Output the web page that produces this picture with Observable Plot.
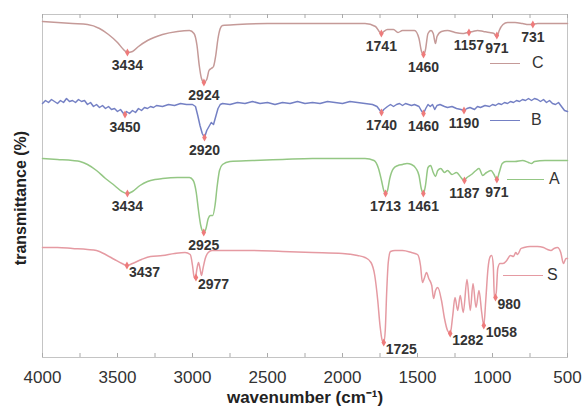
<!DOCTYPE html>
<html>
<head>
<meta charset="utf-8">
<script src="https://cdn.jsdelivr.net/npm/d3@7"></script>
<script src="https://cdn.jsdelivr.net/npm/@observablehq/plot@0.6"></script>
<style>
  body { margin: 0; background: #fff; }
  #wrap { position: relative; width: 582px; height: 409px; font-family: "Liberation Sans", Arial, sans-serif; }
  .leg { position: absolute; height: 0; border-top: 1.5px solid; }
  .legt { position: absolute; font-size: 16px; color: #333; line-height: 16px; }
</style>
</head>
<body>
<div id="wrap"></div>
<script>
// Wavenumber (cm-1) and offset transmittance
const traceC = [[4000,336],[3900,335],[3800,334],[3700,333],[3620,329],[3560,323],[3500,315],[3460,308],[3434,305],[3400,306],[3360,311],[3300,317],[3200,323],[3100,326],[3020,327],[2990,324],[2970,312],[2955,292],[2940,279],[2924,275],[2905,278],[2890,287],[2875,289],[2860,291],[2845,302],[2830,319],[2815,329],[2800,332],[2700,333],[2500,334],[2200,334],[2000,334],[1850,334],[1780,331],[1750,325],[1741,324],[1725,326],[1700,328],[1660,328],[1630,325],[1600,327],[1560,327],[1520,327],[1490,319],[1475,307],[1460,303],[1448,307],[1430,324],[1410,327],[1395,324],[1380,314],[1370,321],[1340,326],[1300,327],[1250,325],[1200,324],[1167,325],[1130,326],[1100,327],[1060,326],[1020,325],[990,324],[975,321],[967,322],[955,327],[930,333],[900,335],[850,335],[800,334],[760,333],[740,333],[700,334],[600,334],[500,334]];
const traceB = [[4000,254],[3980,257],[3960,255],[3940,258],[3920,256],[3900,254],[3880,257],[3860,255],[3840,259],[3820,256],[3800,257],[3780,255],[3760,258],[3740,256],[3720,257],[3700,253],[3680,255],[3660,251],[3640,253],[3620,250],[3600,252],[3580,249],[3560,251],[3540,248],[3520,249],[3500,246],[3480,248],[3460,244],[3450,243],[3440,246],[3420,244],[3400,247],[3380,245],[3360,249],[3340,247],[3320,250],[3300,249],[3280,251],[3260,250],[3240,252],[3200,251],[3160,253],[3120,252],[3080,254],[3040,253],[3000,253],[2980,251],[2965,242],[2950,232],[2935,224],[2920,220],[2905,227],[2890,231],[2875,235],[2860,233],[2845,241],[2830,249],[2815,253],[2800,254],[2750,253],[2700,255],[2650,254],[2600,256],[2550,254],[2500,255],[2450,253],[2400,255],[2350,254],[2300,256],[2250,254],[2200,255],[2150,254],[2100,256],[2050,255],[2000,254],[1950,256],[1900,255],[1850,254],[1800,253],[1770,251],[1750,247],[1740,245],[1725,248],[1700,251],[1680,253],[1660,251],[1640,253],[1620,254],[1600,252],[1580,254],[1560,253],[1540,252],[1520,253],[1490,251],[1475,247],[1460,244],[1445,249],[1430,253],[1415,251],[1400,253],[1385,248],[1370,252],[1350,253],[1320,251],[1300,250],[1270,251],[1240,249],[1210,248],[1190,247],[1170,249],[1150,250],[1120,248],[1100,251],[1080,250],[1050,252],[1020,251],[1000,253],[980,252],[960,254],[940,253],[920,255],[900,254],[880,256],[860,255],[840,257],[820,256],[800,258],[780,257],[760,259],[740,257],[720,259],[700,258],[680,256],[660,258],[640,255],[620,257],[600,254],[580,253],[560,255],[540,251],[520,247],[500,246]];
const traceA = [[4000,199],[3900,198],[3800,197],[3750,196],[3700,193],[3640,187],[3580,179],[3520,172],[3470,166],[3434,164],[3400,166],[3350,172],[3300,176],[3250,178],[3200,179],[3100,180],[3020,180],[2995,177],[2975,165],[2960,147],[2945,132],[2925,125],[2910,129],[2895,139],[2880,142],[2865,142],[2850,152],[2835,172],[2820,187],[2800,193],[2750,196],[2600,197],[2400,198],[2200,199],[2000,199],[1850,199],[1790,197],[1760,189],[1740,177],[1725,167],[1713,164],[1700,167],[1685,179],[1660,189],[1630,192],[1600,193],[1570,194],[1540,193],[1510,189],[1490,182],[1475,169],[1461,164],[1448,171],[1430,190],[1413,192],[1395,185],[1380,181],[1365,187],[1345,189],[1320,185],[1300,187],[1270,183],[1240,185],[1210,180],[1190,177],[1170,180],[1140,183],[1110,187],[1090,189],[1065,182],[1040,185],[1010,187],[990,183],[971,178],[955,185],[935,194],[910,196],[850,196],[800,197],[760,195],[740,194],[720,196],[650,197],[550,197],[500,197]];
const traceS = [[4000,110],[3900,110],[3800,109],[3700,108],[3640,107],[3580,103],[3520,98],[3470,94],[3437,92],[3400,94],[3340,98],[3280,101],[3200,102],[3120,104],[3050,105],[3015,103],[3000,92],[2990,81],[2982,79],[2970,89],[2960,95],[2950,89],[2940,82],[2930,89],[2915,99],[2895,105],[2870,107],[2800,107],[2600,107],[2400,106],[2200,105],[2000,104],[1900,102],[1850,100],[1810,95],[1785,82],[1765,57],[1750,32],[1735,17],[1725,15],[1715,27],[1705,67],[1695,95],[1680,106],[1650,107],[1600,107],[1540,105],[1500,103],[1480,92],[1467,75],[1455,79],[1440,85],[1425,79],[1405,72],[1393,59],[1380,67],[1365,70],[1340,57],[1320,39],[1300,27],[1282,24],[1265,42],[1250,60],[1232,47],[1215,62],[1195,45],[1170,78],[1148,47],[1130,74],[1110,50],[1090,67],[1072,45],[1058,32],[1045,57],[1030,89],[1015,101],[1005,102],[995,92],[987,59],[975,65],[965,89],[950,94],[930,94],[905,97],[880,102],[860,101],[845,105],[833,103],[810,109],[790,110],[750,111],[700,111],[660,110],[633,108],[610,107],[590,109],[567,110],[545,105],[527,94],[510,99],[500,99]];

// Labelled peaks: [wavenumber, offset transmittance]
const peaksC = [[3434,305],[2924,275],[1741,324],[1460,303],[1157,325],[971,322],[731,333]];
const peaksB = [[3450,243],[2920,220],[1740,245],[1460,244],[1190,247]];
const peaksA = [[3434,164],[2925,125],[1713,164],[1461,164],[1187,177],[971,178]];
const peaksS = [[3437,92],[2977,80],[1725,15],[1282,24],[1058,32],[980,60]];

const seriesNames = ["C", "B", "A", "S"];
const xTicks = d3.range(500, 4001, 250);
const xTickLabels = d3.range(500, 4001, 500);

const colors = {C: "#c59a98", B: "#7480c4", A: "#94c784", S: "#e59aa2"};
const traces = {C: traceC, B: traceB, A: traceA, S: traceS};
const peaks = {C: peaksC, B: peaksB, A: peaksA, S: peaksS};

const lineMarks = seriesNames.map(s => Plot.line(traces[s], {
  x: d => d[0], y: d => d[1], stroke: colors[s], strokeWidth: 1.5,
  curve: s === "B" ? "linear" : "monotone-x"
}));
const dotMarks = seriesNames.map(s => Plot.dot(peaks[s], {
  x: d => d[0], y: d => d[1], symbol: "diamond", r: 2.4, fill: "#ee7b7b"
}));
const textMarks = seriesNames.map(s => Plot.text(peaks[s], {
  x: d => d[0], y: d => d[1], text: d => String(d[0]),
  textAnchor: s === "S" ? "start" : "middle",
  dx: s === "S" ? 2 : 0, dy: s === "S" ? 7 : 13,
  fontSize: 14, fill: "#333", fontWeight: "bold"
}));

const plotH = 409 - 14 - 52;
const chart = Plot.plot({
  width: 582, height: 409,
  marginLeft: 42, marginRight: 15, marginTop: 14, marginBottom: 52,
  style: {fontFamily: "'Liberation Sans', Arial, sans-serif", background: "#fff"},
  x: {domain: [4000, 500]},
  y: {domain: [0, 343], axis: null},
  marks: [
    Plot.frame({stroke: "#c4c4c4"}),
    Plot.tickX(xTicks, {x: d => d, insetTop: plotH - 4, stroke: "#aaa"}),
    Plot.tickX(xTicks, {x: d => d, insetBottom: plotH - 4, stroke: "#aaa"}),
    Plot.axisX(xTickLabels, {tickSize: 0, tickPadding: 13, fontSize: 17, fill: "#333", label: null, tickFormat: d => String(d)}),
    Plot.text(["wavenumber (cm⁻¹)"], {frameAnchor: "bottom", dy: 45, fontSize: 17, fontWeight: "bold", fill: "#222"}),
    Plot.text(["transmittance (%)"], {frameAnchor: "left", textAnchor: "middle", dx: -22, dy: 12, rotate: -90, fontSize: 16, fontWeight: "bold", fill: "#222"}),
    ...lineMarks,
    ...dotMarks,
    ...textMarks
  ]
});

const wrap = document.getElementById("wrap");
wrap.appendChild(chart);
chart.style.position = "absolute"; chart.style.left = "0"; chart.style.top = "0";

// legend entries overlaid inside the plot
const legendLayout = {C: [490, 63, 30, 532], B: [490, 120, 30, 531], A: [507, 179, 37, 549], S: [503, 275, 40, 547]};
for (const s of seriesNames) {
  const [x, y, w, tx] = legendLayout[s];
  const l = document.createElement("div");
  l.className = "leg"; l.style.left = x + "px"; l.style.top = y + "px"; l.style.width = w + "px"; l.style.borderTopColor = colors[s];
  wrap.appendChild(l);
  const t = document.createElement("div");
  t.className = "legt"; t.textContent = s; t.style.left = tx + "px"; t.style.top = (y - 8) + "px";
  wrap.appendChild(t);
}
</script>
</body>
</html>
